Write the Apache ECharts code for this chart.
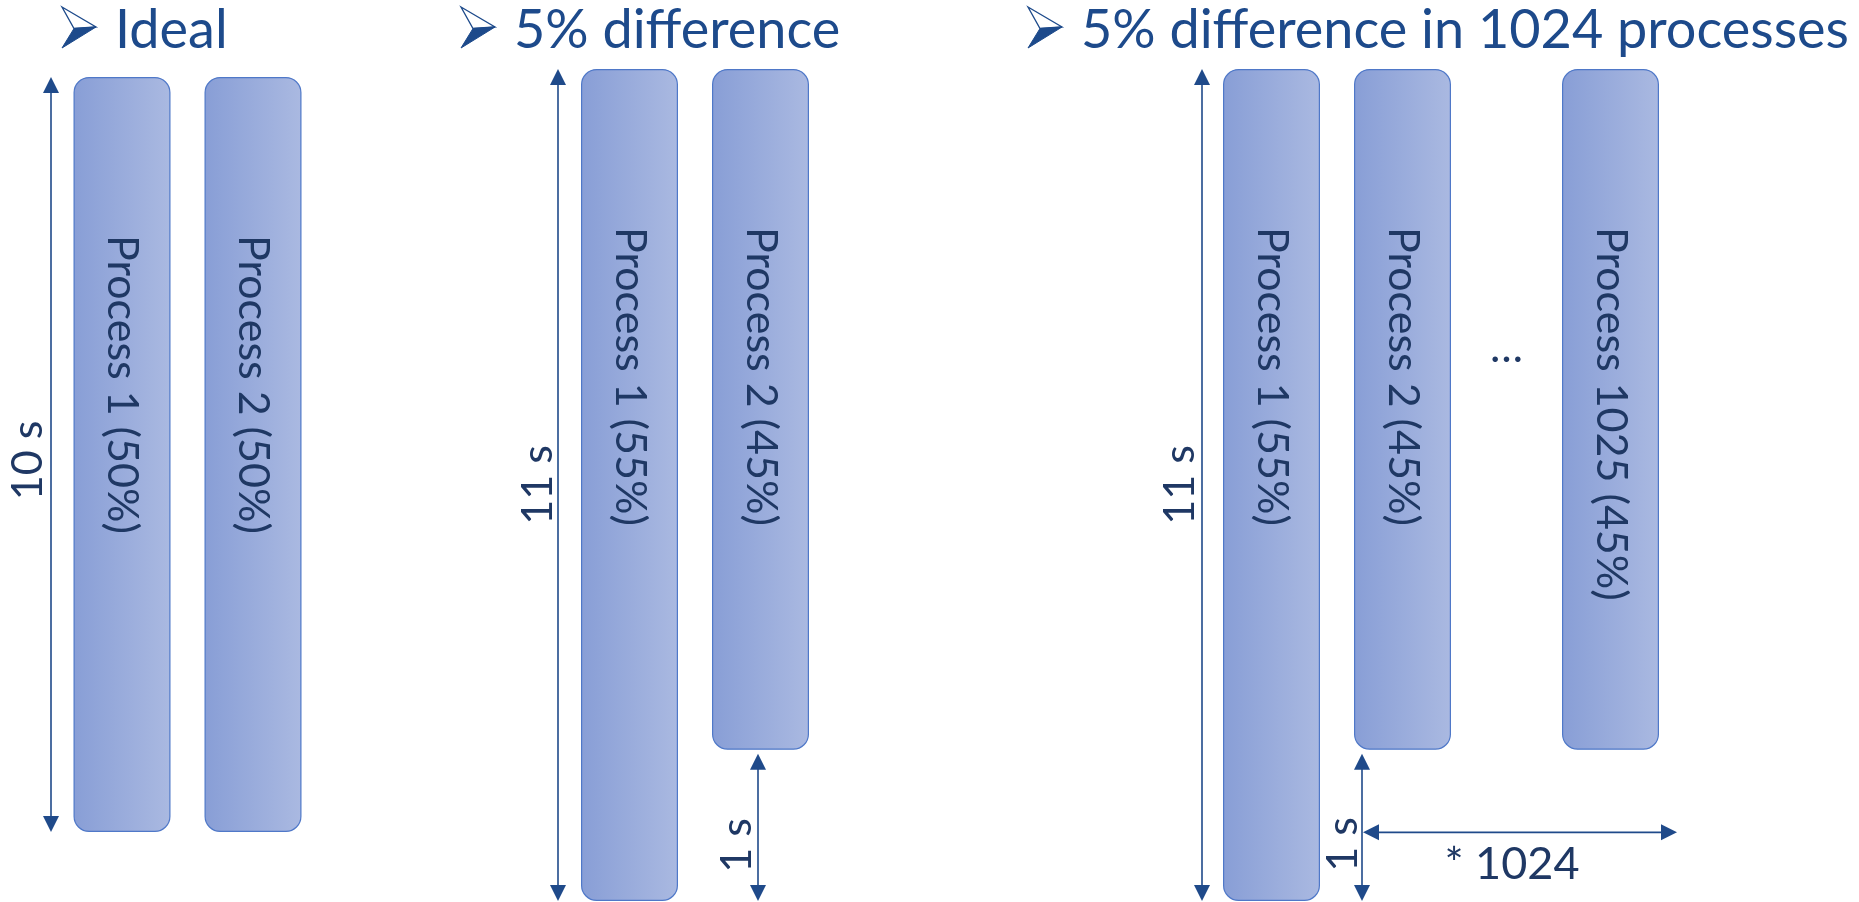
<!DOCTYPE html>
<html>
<head>
<meta charset="utf-8">
<script src="https://cdn.jsdelivr.net/npm/echarts@6/dist/echarts.min.js"></script>
<style>
html,body{margin:0;padding:0;background:#ffffff;}
#c{width:1859px;height:902px;}
</style>
</head>
<body>
<div id="c"></div>
<script>
// ---------------- data ----------------
const titles = ['Ideal', '5% difference', '5% difference in 1024 processes'];

const idealCats = ['Process 1 (50%)', 'Process 2 (50%)'];
const idealSecs = [10, 10];

const diffCats = ['Process 1 (55%)', 'Process 2 (45%)'];
const diffSecs = [11, 9];

const manyCats = ['Process 1 (55%)', 'Process 2 (45%)'];
const manySecs = [11, 9];

const lastCats = ['Process 1025 (45%)'];
const lastSecs = [9];

const spanLabels = ['10 s', '11 s', '1 s', '* 1024'];
const ellipsisText = '…';

// ---------------- style ----------------
const FONT = 'Lato';
const NAVY = '#1F3864';
const BLUE = '#1D4A8B';
const ARROW = '#1F4A8A';

const groups = [
  { cats: idealCats, vals: idealSecs, max: 10, grid: { left: 56.5, top: 77, width: 262, height: 755 } },
  { cats: diffCats,  vals: diffSecs,  max: 11, grid: { left: 564,  top: 69, width: 262, height: 832 } },
  { cats: manyCats,  vals: manySecs,  max: 11, grid: { left: 1206, top: 69, width: 262, height: 832 } },
  { cats: lastCats,  vals: lastSecs,  max: 11, grid: { left: 1545, top: 69, width: 131, height: 832 } }
];

const barGradient = new echarts.graphic.LinearGradient(0, 0, 1, 0, [
  { offset: 0, color: '#889ED6' },
  { offset: 1, color: '#AAB9E1' }
]);

const option = {
  backgroundColor: '#ffffff',
  animation: false,
  grid: groups.map(g => Object.assign({ containLabel: false }, g.grid)),
  xAxis: groups.map((g, i) => ({
    type: 'category', gridIndex: i, data: g.cats, show: false, boundaryGap: true
  })),
  yAxis: groups.map((g, i) => ({
    type: 'value', gridIndex: i, inverse: true, min: 0, max: g.max, show: false
  })),
  series: groups.map((g, i) => ({
    type: 'bar',
    xAxisIndex: i,
    yAxisIndex: i,
    data: g.vals,
    barWidth: 97,
    itemStyle: {
      color: barGradient,
      borderColor: '#4F78C8',
      borderWidth: 1.2,
      borderRadius: 15
    },
    label: {
      show: true,
      position: 'insideTop',
      distance: 158,
      rotate: -90,
      align: 'left',
      verticalAlign: 'middle',
      formatter: '{b}',
      fontFamily: FONT,
      fontSize: 43,
      color: NAVY
    }
  }))
};

const chart = echarts.init(document.getElementById('c'), null, { renderer: 'canvas' });
chart.setOption(option);

// ---------------- annotations (positioned through the axes) ----------------
const px = (gi, cat, v) => chart.convertToPixel({ gridIndex: gi }, [cat, v]);
const HEAD_L = 16, HEAD_W = 16;
const gfx = [];

function vArrow(x, y1, y2, label, labelDx, labelDy) {
  gfx.push({ type: 'line', shape: { x1: x, y1: y1 + 4, x2: x, y2: y2 - 4 }, style: { stroke: ARROW, lineWidth: 1.6 } });
  gfx.push({ type: 'polygon', shape: { points: [[x, y1], [x - HEAD_W / 2, y1 + HEAD_L], [x + HEAD_W / 2, y1 + HEAD_L]] }, style: { fill: ARROW } });
  gfx.push({ type: 'polygon', shape: { points: [[x, y2], [x - HEAD_W / 2, y2 - HEAD_L], [x + HEAD_W / 2, y2 - HEAD_L]] }, style: { fill: ARROW } });
  gfx.push({
    type: 'text', x: x - labelDx, y: (y1 + y2) / 2 + labelDy, rotation: Math.PI / 2,
    style: { text: label, fontFamily: FONT, fontSize: 43, fill: NAVY, align: 'center', verticalAlign: 'middle' }
  });
}
function hArrow(x1, x2, y, label, labelDy) {
  gfx.push({ type: 'line', shape: { x1: x1 + 4, y1: y, x2: x2 - 4, y2: y }, style: { stroke: ARROW, lineWidth: 1.6 } });
  gfx.push({ type: 'polygon', shape: { points: [[x1, y], [x1 + HEAD_L, y - HEAD_W / 2], [x1 + HEAD_L, y + HEAD_W / 2]] }, style: { fill: ARROW } });
  gfx.push({ type: 'polygon', shape: { points: [[x2, y], [x2 - HEAD_L, y - HEAD_W / 2], [x2 - HEAD_L, y + HEAD_W / 2]] }, style: { fill: ARROW } });
  gfx.push({
    type: 'text', x: (x1 + x2) / 2 - 8, y: y + labelDy,
    style: { text: label, fontFamily: FONT, fontSize: 45, fill: NAVY, align: 'center', verticalAlign: 'middle' }
  });
}
function titleArrow(x0, y0) {
  const tl = [x0, y0], tip = [x0 + 34, y0 + 20], bl = [x0, y0 + 41], notch = [x0 + 12, y0 + 21.5];
  gfx.push({ type: 'polygon', shape: { points: [tl, tip, notch] }, style: { fill: '#ffffff', stroke: BLUE, lineWidth: 1.3 } });
  gfx.push({ type: 'polygon', shape: { points: [notch, tip, bl] }, style: { fill: BLUE, stroke: BLUE, lineWidth: 1 } });
}

// Ideal: total span
{
  const top = px(0, 0, 0), bot = px(0, 0, idealSecs[0]);
  vArrow(top[0] - 71, top[1], bot[1], spanLabels[0], 23, 6);
}
// 5% difference: total span and the gap
{
  const top = px(1, 0, 0), bot = px(1, 0, Math.max.apply(null, diffSecs));
  vArrow(top[0] - 71.5, top[1], bot[1], spanLabels[1], 20, 0);
  const g1 = px(1, 1, diffSecs[1]), g2 = px(1, 1, diffSecs[0]);
  vArrow(g1[0] - 2.5, g1[1] + 4, g2[1], spanLabels[2], 21, 18);
}
// 1024 processes
{
  const top = px(2, 0, 0), bot = px(2, 0, Math.max.apply(null, manySecs));
  vArrow(top[0] - 69.5, top[1], bot[1], spanLabels[1], 22, 0);
  const g1 = px(2, 1, manySecs[1]), g2 = px(2, 1, manySecs[0]);
  const ax = g1[0] - 40.5;
  vArrow(ax, g1[1] + 4, g2[1], spanLabels[2], 19, 17);
  const mid = px(2, 1, (manySecs[0] + manySecs[1]) / 2);
  const endX = px(3, 0, 0)[0] + 66.5;
  hArrow(ax + 1, endX, mid[1] + 7, spanLabels[3], 32);
  // ellipsis between Process 2 and Process 1025
  const e1 = px(2, 1, 0)[0], e2 = px(3, 0, 0)[0];
  gfx.push({
    type: 'text', x: (e1 + e2) / 2, y: 348,
    style: { text: ellipsisText, fontFamily: FONT, fontSize: 44, fill: NAVY, align: 'center', verticalAlign: 'middle' }
  });
}

// titles
const titleX = [115, 514, 1081];
titles.forEach((t, i) => {
  titleArrow(titleX[i] - 53, 7);
  gfx.push({
    type: 'text', x: titleX[i], y: 31,
    style: { text: t, fontFamily: FONT, fontSize: 54, fill: BLUE, align: 'left', verticalAlign: 'middle' }
  });
});

chart.setOption({ graphic: { elements: gfx } });
</script>
</body>
</html>
